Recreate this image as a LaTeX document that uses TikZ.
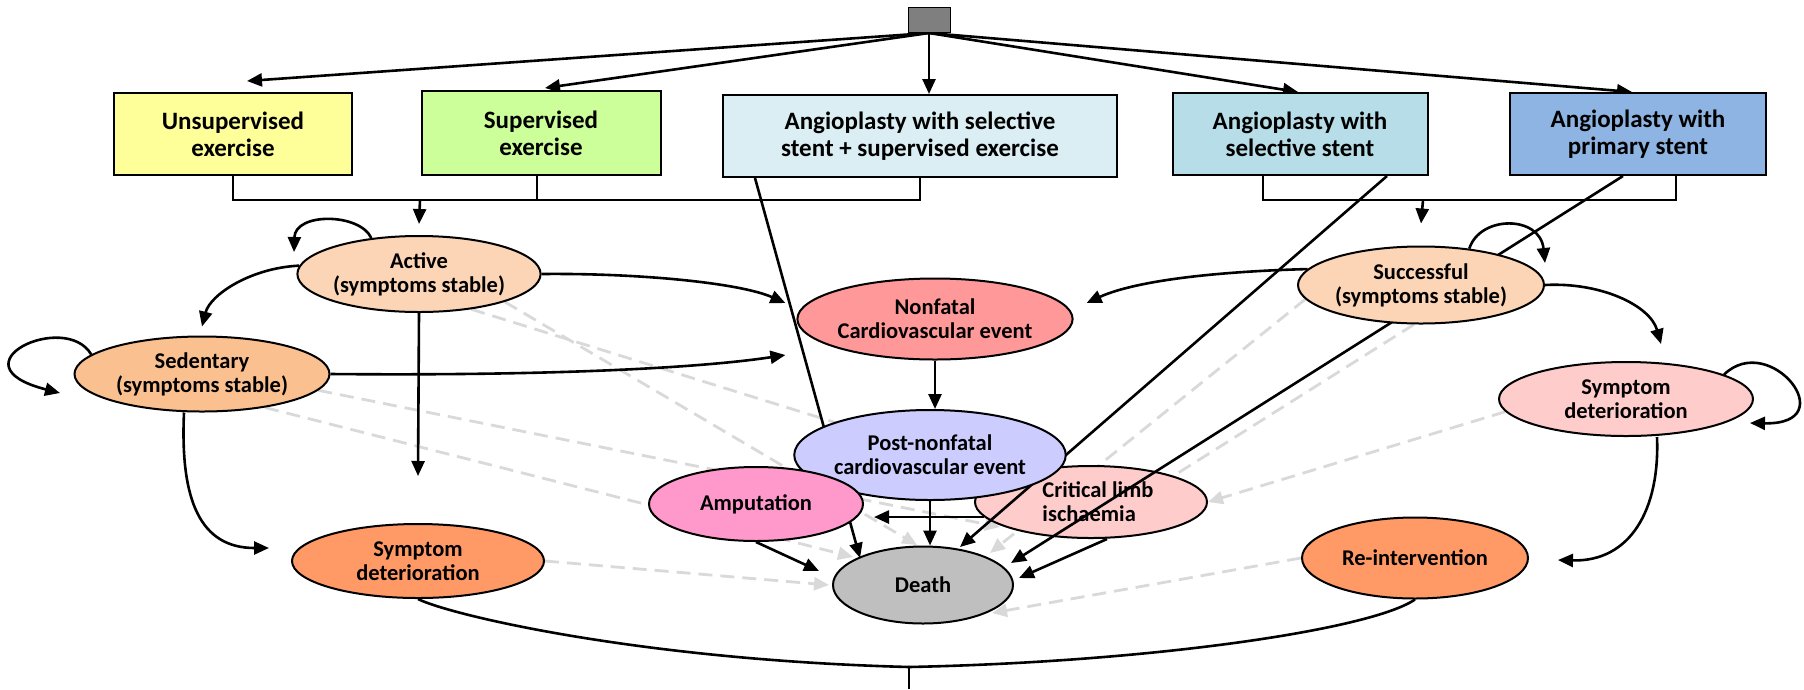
\documentclass[tikz,border=0pt]{standalone}
\usepackage{fontspec}
\setmainfont{Carlito}
\usetikzlibrary{arrows.meta,shapes.geometric,calc}
\pgfdeclarelayer{dash}
\pgfdeclarelayer{crit}
\pgfdeclarelayer{lines}
\pgfsetlayers{dash,crit,lines,main}
\definecolor{cUns}{HTML}{FFFF99}
\definecolor{cSup}{HTML}{CCFF99}
\definecolor{cAsx}{HTML}{DAEEF3}
\definecolor{cAss}{HTML}{B7DEE8}
\definecolor{cAps}{HTML}{8DB4E2}
\definecolor{cAct}{HTML}{FBD5B5}
\definecolor{cSed}{HTML}{FAC090}
\definecolor{cDet}{HTML}{FF9966}
\definecolor{cNon}{HTML}{FF9999}
\definecolor{cPost}{HTML}{CCCCFF}
\definecolor{cAmp}{HTML}{FF99CC}
\definecolor{cCrit}{HTML}{FFCCCC}
\definecolor{cDeath}{HTML}{BFBFBF}
\definecolor{cSrc}{HTML}{7F7F7F}
\definecolor{dgray}{HTML}{D9D9D9}
\begin{document}
\begin{tikzpicture}[x=1pt,y=-1pt,
  box/.style={draw=black, line width=2pt, rectangle, inner sep=0pt, align=center,
    font=\fontsize{25}{27}\selectfont\bfseries},
  st/.style={draw=black, line width=2pt, ellipse, inner sep=0pt, align=center,
    font=\fontsize{22.5}{24}\selectfont\bfseries},
  conn/.style={line width=2.6pt, draw=black},
  arr/.style={conn, -{Triangle[length=15pt,width=13pt]}},
  darr/.style={line width=2.8pt, draw=dgray, dash pattern=on 14pt off 8pt,
    -{Triangle[length=15pt,width=13pt]}},
  dline/.style={line width=2.8pt, draw=dgray, dash pattern=on 14pt off 8pt},
]
\useasboundingbox (0,0) rectangle (1804,689);

% ---------- nodes ----------
\node[draw=black, line width=1pt, fill=cSrc, minimum width=42pt, minimum height=25pt, inner sep=0pt] (src) at (929,20) {};
\node[box, fill=cUns, minimum width=238pt, minimum height=82pt] (b1) at (233,134) {Unsupervised\\exercise};
\node[box, fill=cSup, minimum width=239pt, minimum height=84pt] (b2) at (541,133) {Supervised\\exercise};
\node[box, fill=cAsx, minimum width=394pt, minimum height=82pt] (b3) at (920,136) {Angioplasty with selective\\stent + supervised exercise};
\node[box, fill=cAss, minimum width=255pt, minimum height=82pt] (b4) at (1300,134) {Angioplasty with\\selective stent};
\node[box, fill=cAps, minimum width=256pt, minimum height=82pt] (b5) at (1638,134) {Angioplasty with\\primary stent};

\node[st, fill=cAct, minimum width=238pt, minimum height=76pt] (act) at (419,274) {Active\\(symptoms stable)};
\node[st, fill=cSed, minimum width=255pt, minimum height=75pt] (sed) at (202,374) {Sedentary\\(symptoms stable)};
\node[st, fill=cDet, minimum width=252pt, minimum height=74pt] (symL) at (418,561) {Symptom\\deterioration};
\node[st, fill=cNon, minimum width=257pt, minimum height=81pt] (nonf) at (935,319) {Nonfatal\\Cardiovascular event};
\begin{pgfonlayer}{crit}
\node[st, fill=cCrit, minimum width=232pt, minimum height=72pt, align=left] (crit) at (1091,502) {\hspace*{14pt}Critical limb\\\hspace*{14pt}ischaemia};
\end{pgfonlayer}
\node[st, fill=cPost, minimum width=265pt, minimum height=90pt] (post) at (930,455) {Post-nonfatal\\cardiovascular event};
\node[st, fill=cAmp, minimum width=214pt, minimum height=74pt] (amp) at (756,504) {Amputation};
\node[st, fill=cDeath, minimum width=180pt, minimum height=77pt] (death) at (923,585) {Death};
\node[st, fill=cAct, minimum width=246pt, minimum height=77pt] (succ) at (1421,285) {Successful\\(symptoms stable)};
\node[st, fill=cCrit, minimum width=254pt, minimum height=74pt] (symR) at (1626,399) {Symptom\\deterioration};
\node[st, fill=cDet, minimum width=226pt, minimum height=81pt] (reint) at (1415,558) {Re-intervention};

\coordinate (jL) at (420,200);
\coordinate (jR) at (1423,200);
\coordinate (aLoop) at (294,252);
\coordinate (sLoop) at (1545,263);
\coordinate (rLoop) at (1750,423);
\coordinate (dLoop) at (60,393);
\coordinate (bj) at (909,667);
\coordinate (bend) at (909,689);

% ---------- dashed (background) ----------
\begin{pgfonlayer}{dash}
\draw[dline] (act.-34) -- (crit.center);
\draw[darr] (act.-18) -- ([xshift=-6pt,yshift=40pt]death.center);
\draw[darr] (sed.-8) -- ([xshift=-91pt,yshift=-25pt]crit.center);
\draw[darr] (sed.-28) -- ([xshift=-70pt,yshift=28pt]death.center);
\draw[darr] (symL.east) -- ([xshift=-3pt]death.west);
\draw[darr] (reint.west) -- ([xshift=69pt,yshift=-28pt]death.center);
\draw[darr] (succ.187) -- ([xshift=67pt,yshift=32pt]death.center);
\draw[dline] (succ.260) -- ([xshift=41pt]crit.center);
\draw[darr] (symR.186) -- (crit.east);
\end{pgfonlayer}

% ---------- solid connectors ----------
\begin{pgfonlayer}{lines}
\draw[arr] (src.south) -- ([xshift=14pt,yshift=11pt]b1.north);
\draw[arr] (src.south) -- ([xshift=4pt,yshift=2pt]b2.north);
\draw[arr] (src.south) -- (src.south |- b3.north);
\draw[arr] (src.south) -- ([xshift=-2pt]b4.north);
\draw[arr] (src.south) -- ([xshift=-6pt]b5.north);

\draw[conn] (b1.south) |- (jL) -| (b3.south);
\draw[conn] ([xshift=-4pt]b2.south) -- ([xshift=-4pt]b2.south |- jL);
\draw[arr] (jL) -- ([yshift=11pt]act.north);
\draw[conn] ([xshift=-37pt]b4.south) |- (jR) -| ([xshift=38pt]b5.south);
\draw[arr] (jR) -- ([yshift=22pt]succ.north);

\draw[arr] (act.143) .. controls (360,213) and (295,212) .. (aLoop);
\draw[arr] (sed.170) .. controls (65,310) and (-50,365) .. (dLoop);
\draw[arr] (succ.37) .. controls (1480,215) and (1540,215) .. (sLoop);
\draw[arr] (symR.14) .. controls (1770,330) and (1845,425) .. (rLoop);

\draw[arr] (act.176) .. controls (250,268) and (210,295) .. ([yshift=9pt]sed.north);
\draw[arr] (act.east) .. controls (640,273) and (740,283) .. ([xshift=-11pt,yshift=16pt]nonf.west);
\draw[arr] (sed.east) .. controls (550,376) and (700,368) .. ([xshift=-11pt,yshift=-36pt]nonf.west);
\draw[arr] ([xshift=-18pt]sed.south) .. controls (180,500) and (200,548) .. ([xshift=-22pt,yshift=13pt]symL.west);
\draw[arr] (act.south) -- ([yshift=47pt]symL.north);

\draw[arr] (succ.172) .. controls (1200,272) and (1130,283) .. ([xshift=13pt,yshift=16pt]nonf.east);
\draw[arr] (succ.east) .. controls (1600,282) and (1650,305) .. ([xshift=35pt,yshift=17pt]symR.north);
\draw[arr] ([xshift=31pt]symR.south) .. controls (1660,510) and (1630,562) .. ([xshift=29pt,yshift=-2pt]reint.east);

\draw[arr] (nonf.south) -- (nonf.south |- post.north);
\draw[arr] (post.south) -- (post.south |- death.north);
\draw[arr] (crit.188) -- ([xshift=10pt]amp.east |- crit.188);
\draw[arr] (amp.south) -- ([xshift=-13pt,yshift=14pt]death.west);
\draw[arr] ([xshift=-165pt]b3.south) -- ([xshift=-63pt,yshift=27pt]death.center);
\draw[arr] ([xshift=87pt]b4.south) -- ([xshift=37pt,yshift=38pt]death.center);
\draw[arr] ([xshift=-15pt]b5.south) -- ([xshift=88pt,yshift=22pt]death.center);
\draw[arr] ([xshift=16pt]crit.south) -- ([xshift=96pt,yshift=7pt]death.center);

\draw[conn] (symL.south) .. controls (450,615) and (640,660) .. (bj);
\draw[conn] (reint.south) .. controls (1370,630) and (1150,662) .. (bj);
\draw[conn] (bj) -- (bend);
\end{pgfonlayer}
\end{tikzpicture}
\end{document}
